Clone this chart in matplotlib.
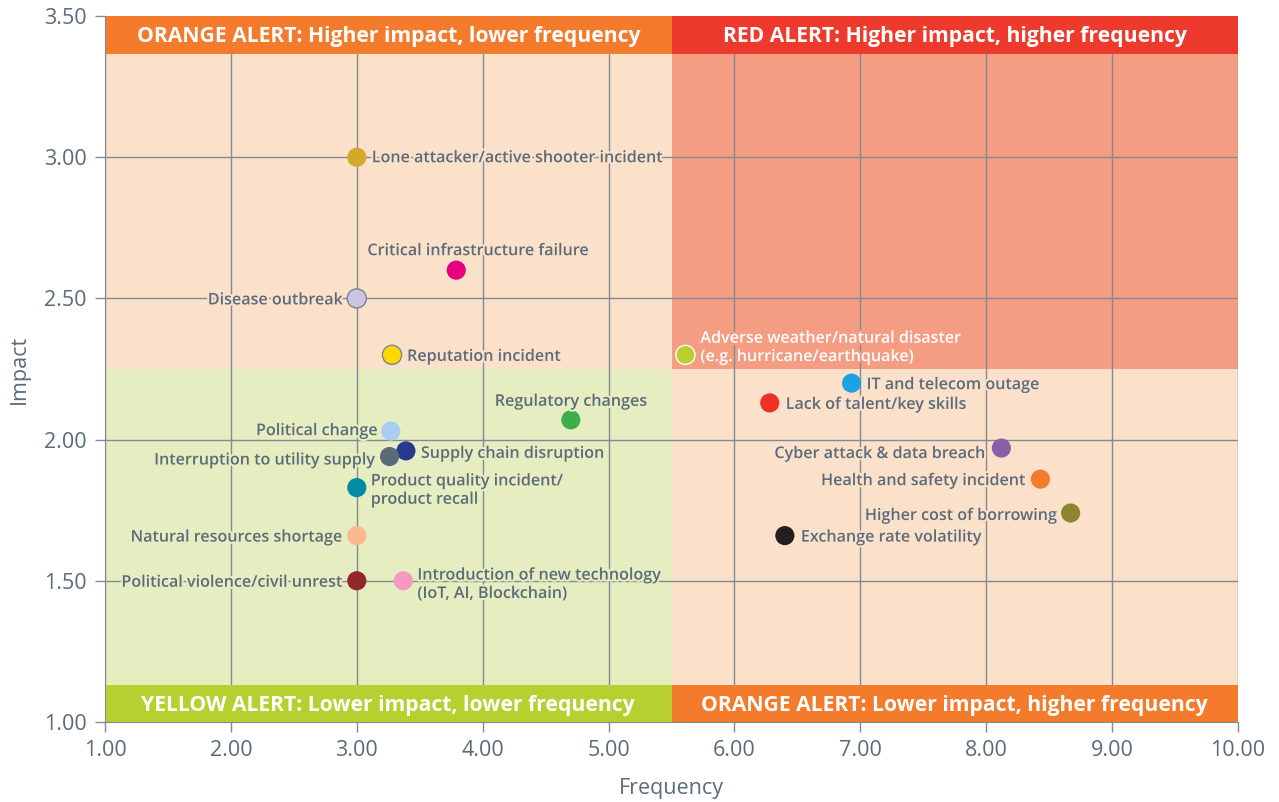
import matplotlib
matplotlib.use("Agg")
import matplotlib.pyplot as plt
import matplotlib.patheffects as pe

plt.rcParams["font.family"] = ["Open Sans", "DejaVu Sans"]

risks = [
    "Lone attacker/active shooter incident",
    "Critical infrastructure failure",
    "Disease outbreak",
    "Reputation incident",
    "Adverse weather/natural disaster\n(e.g. hurricane/earthquake)",
    "IT and telecom outage",
    "Lack of talent/key skills",
    "Regulatory changes",
    "Political change",
    "Supply chain disruption",
    "Interruption to utility supply",
    "Cyber attack & data breach",
    "Product quality incident/\nproduct recall",
    "Health and safety incident",
    "Higher cost of borrowing",
    "Exchange rate volatility",
    "Natural resources shortage",
    "Political violence/civil unrest",
    "Introduction of new technology\n(IoT, AI, Blockchain)",
]
frequency = [3.00, 3.79, 3.00, 3.28, 5.61, 6.93, 6.28, 4.70, 3.27, 3.39,
             3.26, 8.12, 3.00, 8.43, 8.67, 6.40, 3.00, 3.00, 3.37]
impact = [3.00, 2.60, 2.50, 2.30, 2.30, 2.20, 2.13, 2.07, 2.03, 1.96,
          1.94, 1.97, 1.83, 1.86, 1.74, 1.66, 1.66, 1.50, 1.50]
colors = ["#d4a92a", "#e6007e", "#c9c5e3", "#ffd800", "#b8cf30", "#1aa3e0",
          "#ee3124", "#3fae49", "#a7cdf0", "#253a8e", "#5a6a78", "#8b5ea8",
          "#008ba5", "#f47a2c", "#8c8630", "#231f20", "#fbb992", "#93272c",
          "#f49ac1"]
edges = ["none", "none", "#7a8590", "#7a8590", "white"] + ["none"] * 14

# label placement: offset in pixels, horizontal alignment
label_pos = [
    (15, -1, "left"), (22, 19, "center"), (-14, -2, "right"), (15, -2, "left"),
    (15, 7, "left"), (15, -2, "left"), (16, -2, "left"), (0, 18, "center"),
    (-13, 0, "right"), (15, -3, "left"), (-14, -4, "right"), (-16, -6, "right"),
    (14, -3, "left"), (-15, -2, "right"), (-14, -3, "right"), (16, -2, "left"),
    (-15, -2, "right"), (-14, -2, "right"), (14, -4, "left"),
]

x_ticks = [1, 2, 3, 4, 5, 6, 7, 8, 9, 10]
y_ticks = [1.0, 1.5, 2.0, 2.5, 3.0, 3.5]
x_split, y_split = 5.5, 2.25
band_top, band_bottom = 3.365, 1.13

alerts = [
    ("ORANGE ALERT: Higher impact, lower frequency", "#f47a2c", "top", "left"),
    ("RED ALERT: Higher impact, higher frequency", "#ee3a2d", "top", "right"),
    ("YELLOW ALERT: Lower impact, lower frequency", "#b8cf30", "bottom", "left"),
    ("ORANGE ALERT: Lower impact, higher frequency", "#f47a2c", "bottom", "right"),
]
quad_bg = {("top", "left"): "#fbe0ca", ("top", "right"): "#f49d82",
           ("bottom", "left"): "#e6edc0", ("bottom", "right"): "#fbe0ca"}

text_col = "#5b6b7a"
grid_col = "#7f8c97"

fig = plt.figure(figsize=(12.79, 8.02), dpi=100)
ax = fig.add_axes([0.0821, 0.0998, 0.968 - 0.0821, 0.980 - 0.0998])
ax.set_xlim(1, 10)
ax.set_ylim(1, 3.5)

for (vpos, hpos), c in quad_bg.items():
    x0, x1 = (1, x_split) if hpos == "left" else (x_split, 10)
    y0, y1 = (y_split, 3.5) if vpos == "top" else (1, y_split)
    ax.fill_between([x0, x1], y0, y1, color=c, lw=0, zorder=0)

for xv in x_ticks:
    ax.axvline(xv, color=grid_col, lw=1, zorder=1)
for yv in y_ticks:
    ax.axhline(yv, color=grid_col, lw=1, zorder=1)

for text, c, vpos, hpos in alerts:
    x0, x1 = (1, x_split) if hpos == "left" else (x_split, 10)
    y0, y1 = (band_top, 3.5) if vpos == "top" else (1, band_bottom)
    ax.fill_between([x0, x1], y0, y1, color=c, lw=0, zorder=2)
    ax.text((x0 + x1) / 2, (y0 + y1) / 2 - 0.006, text, color="white",
            fontsize=15.2, fontweight="bold", ha="center", va="center",
            zorder=5)

ax.scatter(frequency, impact, s=190, c=colors, edgecolors=edges,
           linewidths=1, zorder=4)

for name, xv, yv, (dx, dy, ha) in zip(risks, frequency, impact, label_pos):
    in_red = xv > x_split and yv > y_split
    if in_red:
        tc, bg = "white", quad_bg[("top", "right")]
    else:
        tc = text_col
        bg = quad_bg[("top" if yv > y_split else "bottom",
                      "left" if xv < x_split else "right")]
    ax.annotate(name, (xv, yv), xytext=(dx, dy), textcoords="offset pixels",
                ha=ha, va="center", fontsize=11.6, fontweight="semibold",
                color=tc, linespacing=1.2, zorder=6,
                path_effects=[pe.withStroke(linewidth=3, foreground=bg)])

ax.set_xticks(x_ticks)
ax.set_yticks(y_ticks)
ax.set_xticklabels([f"{v:.2f}" for v in x_ticks])
ax.set_yticklabels([f"{v:.2f}" for v in y_ticks])
ax.tick_params(colors=grid_col, labelcolor=text_col, labelsize=15.5,
               length=7, width=1, pad=6)
for side in ["top", "right"]:
    ax.spines[side].set_visible(False)
for side in ["left", "bottom"]:
    ax.spines[side].set_color(grid_col)
ax.set_xlabel("Frequency", fontsize=15.5, color=text_col, labelpad=12)
ax.set_ylabel("Impact", fontsize=15.5, color=text_col, labelpad=10)

fig.savefig("out.png", dpi=100)
